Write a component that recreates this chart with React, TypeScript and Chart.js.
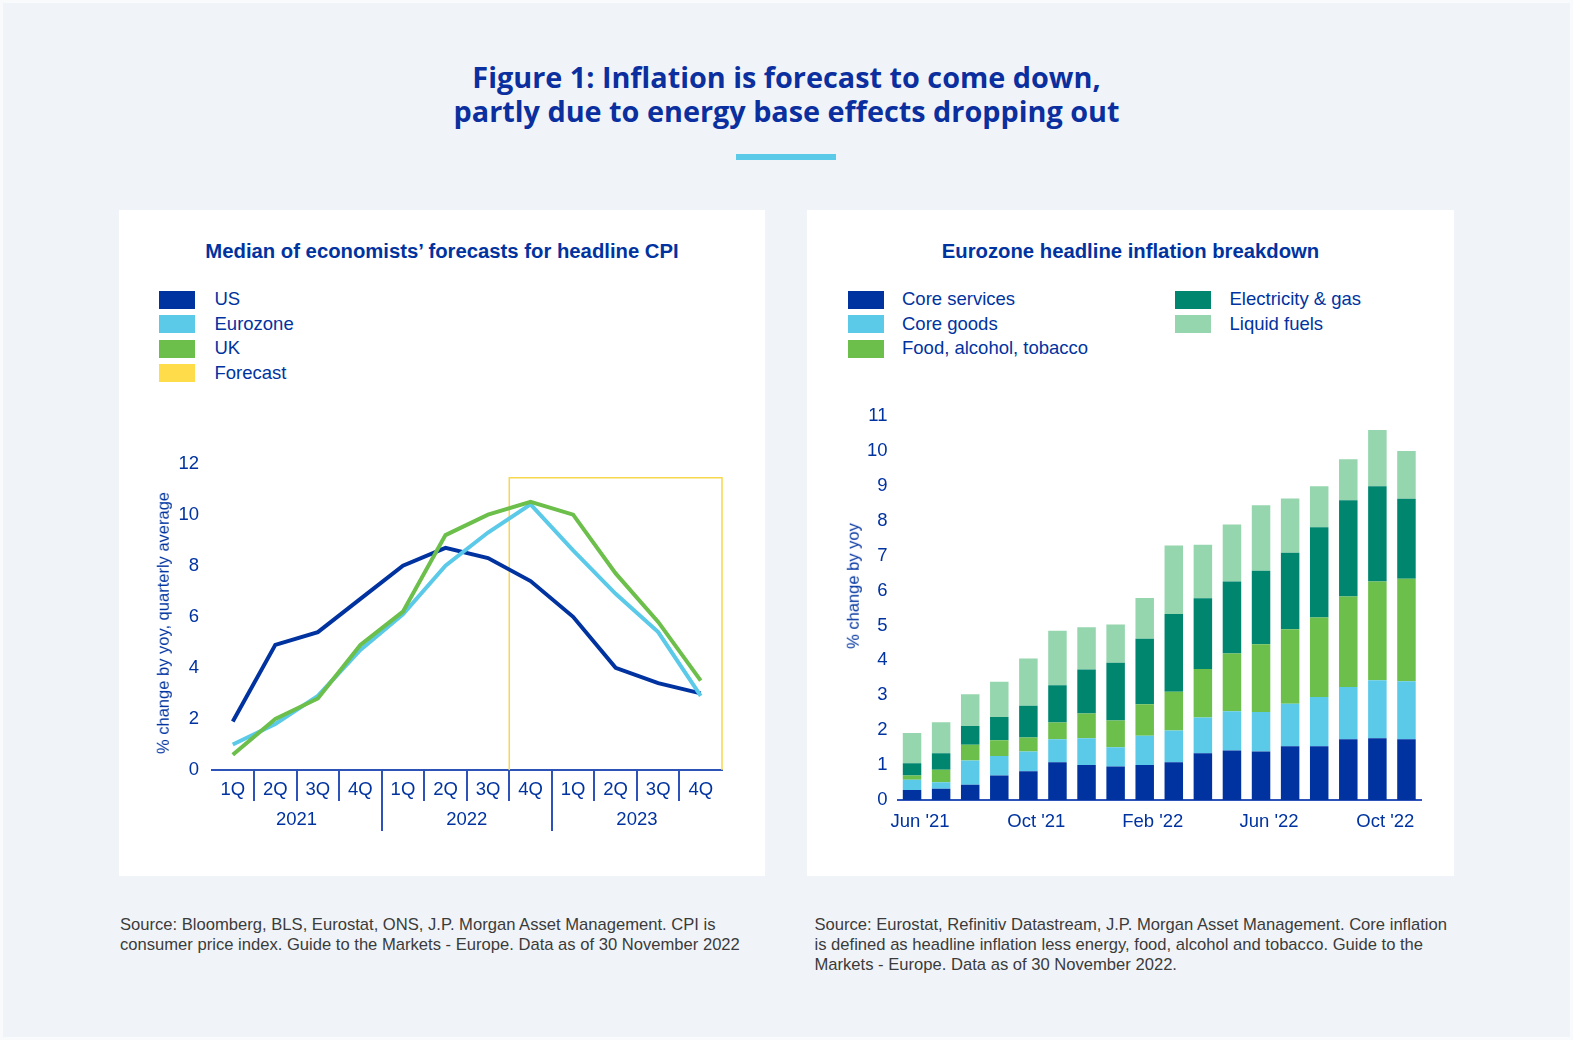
import React, { useEffect, useLayoutEffect, useRef, useState } from 'react';
import { Chart, registerables } from 'chart.js';

Chart.register(...registerables);

// ---------------- Left chart data ----------------
const QUARTERS = ['1Q', '2Q', '3Q', '4Q', '1Q', '2Q', '3Q', '4Q', '1Q', '2Q', '3Q', '4Q'];
const YEARS = ['2021', '2022', '2023'];
const US_CPI = [1.9, 4.9, 5.4, 6.7, 8.0, 8.7, 8.3, 7.4, 6.0, 4.0, 3.4, 3.0];
const EUROZONE_CPI = [1.0, 1.8, 2.9, 4.7, 6.1, 8.0, 9.3, 10.4, 8.6, 6.9, 5.4, 2.9];
const UK_CPI = [0.6, 2.0, 2.8, 4.9, 6.2, 9.2, 10.0, 10.5, 10.0, 7.7, 5.8, 3.5];
const FORECAST_FIRST_INDEX = 7; // 4Q 2022
const FORECAST_BOX_TOP = 11.45;
const LEFT_Y_MIN = 0;
const LEFT_Y_MAX = 12;
const LEFT_Y_STEP = 2;

// ---------------- Right chart data ----------------
const MONTHS = [
  "Jun '21", "Jul '21", "Aug '21", "Sep '21", "Oct '21", "Nov '21", "Dec '21",
  "Jan '22", "Feb '22", "Mar '22", "Apr '22", "May '22", "Jun '22", "Jul '22",
  "Aug '22", "Sep '22", "Oct '22", "Nov '22",
];
const MONTH_LABEL_EVERY = 4;
const CORE_SERVICES = [0.29, 0.32, 0.44, 0.70, 0.82, 1.08, 1.00, 0.96, 1.00, 1.08, 1.34, 1.42, 1.39, 1.54, 1.54, 1.74, 1.77, 1.74];
const CORE_GOODS = [0.29, 0.19, 0.69, 0.56, 0.57, 0.66, 0.77, 0.55, 0.84, 0.91, 1.02, 1.12, 1.13, 1.22, 1.41, 1.50, 1.66, 1.66];
const FOOD_ALCOHOL_TOBACCO = [0.12, 0.36, 0.45, 0.45, 0.40, 0.48, 0.71, 0.77, 0.90, 1.11, 1.39, 1.66, 1.94, 2.13, 2.28, 2.59, 2.83, 2.94];
const ELECTRICITY_GAS = [0.35, 0.47, 0.54, 0.67, 0.91, 1.07, 1.26, 1.65, 1.88, 2.23, 2.03, 2.06, 2.11, 2.19, 2.58, 2.76, 2.73, 2.29];
const LIQUID_FUELS = [0.87, 0.89, 0.91, 1.01, 1.35, 1.56, 1.21, 1.10, 1.17, 1.96, 1.53, 1.63, 1.87, 1.56, 1.18, 1.17, 1.61, 1.37];
const RIGHT_Y_MIN = 0;
const RIGHT_Y_MAX = 11;
const RIGHT_Y_STEP = 1;

// ---------------- Styles ----------------
const SANS = '"Liberation Sans", Arial, Helvetica, sans-serif';
const NAVY = '#0033a0';
const CYAN = '#5bc9e8';
const GREEN = '#6cbf4b';
const YELLOW = '#ffdc4a';
const TEAL = '#00866f';
const MINT = '#95d6ae';
const TEXT_BLUE = '#0033a0';
const AXIS_BLUE = '#2d52b8';
const TICK_FONT = { family: SANS, size: 18.5 };

const LINE_SERIES = [
  { name: 'US', data: US_CPI, color: NAVY, order: 3 },
  { name: 'Eurozone', data: EUROZONE_CPI, color: CYAN, order: 2 },
  { name: 'UK', data: UK_CPI, color: GREEN, order: 1 },
];
const LINE_LEGEND = [...LINE_SERIES.map((s) => ({ name: s.name, color: s.color })), { name: 'Forecast', color: YELLOW }];

const BAR_SERIES = [
  { name: 'Core services', data: CORE_SERVICES, color: NAVY },
  { name: 'Core goods', data: CORE_GOODS, color: CYAN },
  { name: 'Food, alcohol, tobacco', data: FOOD_ALCOHOL_TOBACCO, color: GREEN },
  { name: 'Electricity & gas', data: ELECTRICITY_GAS, color: TEAL },
  { name: 'Liquid fuels', data: LIQUID_FUELS, color: MINT },
];

const forecastBoxPlugin = {
  id: 'forecastBox',
  beforeDatasetsDraw(chart: any) {
    const { ctx, scales } = chart;
    const x = scales.x;
    const y = scales.y;
    const x0 = x.getPixelForValue(FORECAST_FIRST_INDEX - 0.5);
    const x1 = x.getPixelForValue(QUARTERS.length - 1 + 0.5);
    const yTop = y.getPixelForValue(FORECAST_BOX_TOP);
    const yBot = y.getPixelForValue(0);
    ctx.save();
    ctx.strokeStyle = '#f6d74e';
    ctx.lineWidth = 1.5;
    ctx.beginPath();
    ctx.moveTo(x0, yBot);
    ctx.lineTo(x0, yTop);
    ctx.lineTo(x1, yTop);
    ctx.lineTo(x1, yBot);
    ctx.stroke();
    ctx.restore();
  },
};

const hideEdges = (last: number) => (c: any) =>
  c.index === 0 || c.index == null || c.index === last ? 'rgba(0,0,0,0)' : AXIS_BLUE;

function makeLineConfig(): any {
  return {
    type: 'line',
    data: {
      labels: QUARTERS,
      datasets: LINE_SERIES.map((s) => ({
        label: s.name,
        data: s.data,
        borderColor: s.color,
        backgroundColor: s.color,
        borderWidth: 4,
        pointRadius: 0,
        pointHoverRadius: 0,
        tension: 0,
        fill: false,
        order: s.order,
        xAxisID: 'x',
        yAxisID: 'y',
      })),
    },
    options: {
      responsive: false,
      animation: false,
      events: [],
      layout: { padding: { top: 23, right: 18, left: 0, bottom: 0 } },
      plugins: { legend: { display: false }, tooltip: { enabled: false } },
      scales: {
        x: {
          type: 'category',
          position: 'bottom',
          offset: true,
          grid: {
            display: true,
            offset: true,
            drawOnChartArea: false,
            drawTicks: true,
            tickLength: 31,
            lineWidth: 2,
            color: hideEdges(QUARTERS.length),
          },
          border: { display: true, color: AXIS_BLUE, width: 2 },
          ticks: { color: TEXT_BLUE, font: TICK_FONT, padding: -22.1, autoSkip: false, maxRotation: 0 },
          afterFit: (s: any) => { s.height = 31; },
        },
        x2: {
          type: 'category',
          labels: YEARS,
          position: 'bottom',
          offset: true,
          grid: {
            display: true,
            offset: true,
            drawOnChartArea: false,
            drawTicks: true,
            tickLength: 30,
            lineWidth: 2,
            color: hideEdges(YEARS.length),
          },
          border: { display: false },
          ticks: { color: TEXT_BLUE, font: TICK_FONT, padding: -22.1, autoSkip: false, maxRotation: 0 },
          afterFit: (s: any) => { s.height = 49; },
        },
        y: {
          min: LEFT_Y_MIN,
          max: LEFT_Y_MAX,
          grid: { display: false, drawTicks: false },
          border: { display: false },
          ticks: { stepSize: LEFT_Y_STEP, color: TEXT_BLUE, font: TICK_FONT, padding: 12.5 },
          afterFit: (s: any) => { s.width = 71.5; },
        },
      },
    },
    plugins: [forecastBoxPlugin],
  };
}

function makeBarConfig(): any {
  return {
    type: 'bar',
    data: {
      labels: MONTHS,
      datasets: BAR_SERIES.map((s) => ({
        label: s.name,
        data: s.data,
        backgroundColor: s.color,
        borderWidth: 0,
        categoryPercentage: 1,
        barPercentage: 0.636,
      })),
    },
    options: {
      responsive: false,
      animation: false,
      events: [],
      layout: { padding: { top: 26, right: 19, left: 0, bottom: 0 } },
      plugins: { legend: { display: false }, tooltip: { enabled: false } },
      scales: {
        x: {
          stacked: true,
          grid: { display: false, drawTicks: false },
          border: { display: true, color: AXIS_BLUE, width: 2 },
          ticks: {
            color: TEXT_BLUE,
            font: TICK_FONT,
            autoSkip: false,
            maxRotation: 0,
            padding: 10.6,
            labelOffset: 8,
            callback: (_v: any, i: number) => (i % MONTH_LABEL_EVERY === 0 ? MONTHS[i] : ''),
          },
          afterFit: (s: any) => { s.height = 50; },
        },
        y: {
          stacked: true,
          min: RIGHT_Y_MIN,
          max: RIGHT_Y_MAX,
          grid: { display: false, drawTicks: false },
          border: { display: false },
          ticks: { stepSize: RIGHT_Y_STEP, color: TEXT_BLUE, font: TICK_FONT, padding: 10 },
          afterFit: (s: any) => { s.width = 77.5; },
        },
      },
    },
  };
}

function ChartCanvas({ left, top, width, height, make }: any) {
  const ref = useRef<HTMLCanvasElement>(null);
  useEffect(() => {
    if (!ref.current) return;
    const chart = new Chart(ref.current, make());
    return () => chart.destroy();
  }, []);
  return (
    <canvas
      ref={ref}
      width={width}
      height={height}
      style={{ position: 'absolute', left, top, width, height, display: 'block' }}
    />
  );
}

// top offset so the text baseline lands at `baseline` (Liberation Sans metrics)
const sansTop = (baseline: number, size: number, lh: number) => baseline - ((lh - 1.117 * size) / 2 + 0.905 * size);

function Legend({ items, columns }: any) {
  return (
    <>
      {items.map((it: any, i: number) => {
        const col = columns.find((c: any) => i >= c.from && i < c.to);
        const row = i - col.from;
        const cy = 299.5 + row * 24.6;
        return (
          <React.Fragment key={it.name}>
            <div style={{ position: 'absolute', left: col.sq, top: cy - 9, width: 36, height: 18, background: it.color }} />
            <div
              style={{
                position: 'absolute',
                left: col.text,
                top: cy - 12.3,
                height: 24.6,
                lineHeight: '24.6px',
                fontFamily: SANS,
                fontSize: 18.5,
                color: TEXT_BLUE,
                whiteSpace: 'nowrap',
              }}
            >
              {it.name}
            </div>
          </React.Fragment>
        );
      })}
    </>
  );
}

function AxisTitle({ cx, cy, text }: any) {
  return (
    <div
      style={{
        position: 'absolute',
        left: cx,
        top: cy,
        transform: 'translate(-50%, -50%) rotate(-90deg)',
        fontFamily: SANS,
        fontSize: 16.5,
        lineHeight: '16.5px',
        color: TEXT_BLUE,
        whiteSpace: 'nowrap',
      }}
    >
      {text}
    </div>
  );
}

export default function App() {
  const [titleSize, setTitleSize] = useState(28);
  const t1 = useRef<HTMLSpanElement>(null);
  const t2 = useRef<HTMLSpanElement>(null);
  useLayoutEffect(() => {
    const w = (t1.current?.getBoundingClientRect().width || 0) + (t2.current?.getBoundingClientRect().width || 0);
    if (w > 0) setTitleSize((28 * (628 + 667)) / w);
  }, []);

  const titleLine = (text: string, baseline: number, ref: any) => (
    <div
      style={{
        position: 'absolute',
        left: 0,
        width: 1573,
        top: baseline - 0.888 * titleSize,
        textAlign: 'center',
        fontFamily: '"Open Sans", "Noto Sans", sans-serif',
        fontWeight: 700,
        fontSize: titleSize,
        lineHeight: `${titleSize}px`,
        color: '#0b2f9e',
        whiteSpace: 'nowrap',
      }}
    >
      <span ref={ref} style={{ display: 'inline-block' }}>{text}</span>
    </div>
  );

  const subTitle = (text: string, left: number, width: number) => (
    <div
      style={{
        position: 'absolute',
        left,
        width,
        top: sansTop(258, 20.3, 24),
        lineHeight: '24px',
        textAlign: 'center',
        fontFamily: SANS,
        fontWeight: 700,
        fontSize: 20.3,
        color: TEXT_BLUE,
        whiteSpace: 'nowrap',
      }}
    >
      {text}
    </div>
  );

  const source = (lines: string[], left: number) => (
    <div
      style={{
        position: 'absolute',
        left,
        top: sansTop(931, 16.6, 20),
        lineHeight: '20px',
        fontFamily: SANS,
        fontSize: 16.6,
        color: '#3b3b3b',
        whiteSpace: 'nowrap',
      }}
    >
      {lines.map((l) => (
        <div key={l}>{l}</div>
      ))}
    </div>
  );

  return (
    <div style={{ position: 'absolute', left: 0, top: 0, width: 1573, height: 1040, background: '#f9fafb', overflow: 'hidden' }}>
      <div style={{ position: 'absolute', left: 3, top: 3, right: 3, bottom: 3, background: '#f0f4f8' }} />
      {titleLine('Figure 1: Inflation is forecast to come down,', 88.3, t1)}
      {titleLine('partly due to energy base effects dropping out', 122.7, t2)}
      <div style={{ position: 'absolute', left: 736, top: 154, width: 100, height: 6, background: CYAN }} />

      <div style={{ position: 'absolute', left: 119, top: 210, width: 646, height: 666, background: '#ffffff' }} />
      <div style={{ position: 'absolute', left: 807, top: 210, width: 647, height: 666, background: '#ffffff' }} />

      {subTitle('Median of economists’ forecasts for headline CPI', 119, 646)}
      {subTitle('Eurozone headline inflation breakdown', 807, 647)}

      <Legend items={LINE_LEGEND} columns={[{ from: 0, to: 4, sq: 159, text: 214.5 }]} />
      <Legend
        items={BAR_SERIES.map((s) => ({ name: s.name, color: s.color }))}
        columns={[
          { from: 0, to: 3, sq: 848, text: 902 },
          { from: 3, to: 5, sq: 1175, text: 1229.5 },
        ]}
      />

      <ChartCanvas left={140} top={440} width={600} height={410} make={makeLineConfig} />
      <ChartCanvas left={820} top={390} width={620} height={460} make={makeBarConfig} />

      <AxisTitle cx={163} cy={622.5} text="% change by yoy, quarterly average" />
      <AxisTitle cx={853} cy={586} text="% change by yoy" />

      {source(
        [
          'Source: Bloomberg, BLS, Eurostat, ONS, J.P. Morgan Asset Management. CPI is',
          'consumer price index. Guide to the Markets - Europe. Data as of 30 November 2022',
        ],
        120
      )}
      {source(
        [
          'Source: Eurostat, Refinitiv Datastream, J.P. Morgan Asset Management. Core inflation',
          'is defined as headline inflation less energy, food, alcohol and tobacco. Guide to the',
          'Markets - Europe. Data as of 30 November 2022.',
        ],
        814.5
      )}
    </div>
  );
}
